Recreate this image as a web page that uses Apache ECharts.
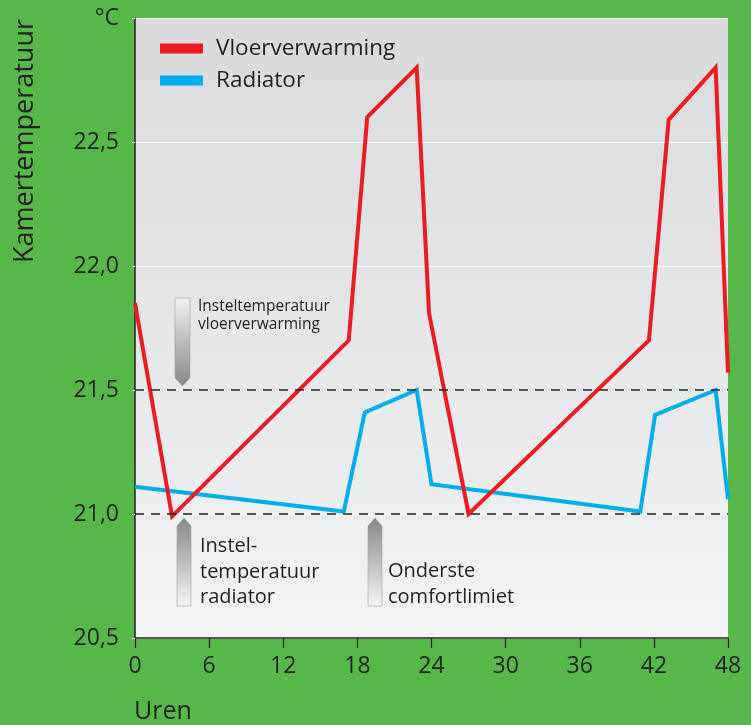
<!DOCTYPE html>
<html>
<head>
<meta charset="utf-8">
<script src="https://cdn.jsdelivr.net/npm/echarts@6/dist/echarts.min.js"></script>
<style>
  html, body { margin: 0; padding: 0; background: #55b848; }
  #chart { width: 751px; height: 725px; }
</style>
</head>
<body>
<div id="chart"></div>
<script>
// uren / kamertemperatuur
const hoursFloor = [0, 3, 17.3, 18.8, 22.8, 23.8, 27, 41.6, 43.2, 47, 48]
const tempFloor = [21.85, 20.99, 21.7, 22.6, 22.8, 21.81, 21.0, 21.7, 22.59, 22.8, 21.57]
const hoursRad = [0, 16.9, 18.6, 22.8, 24.0, 40.9, 42.1, 47.0, 48]
const tempRad = [21.11, 21.01, 21.41, 21.5, 21.12, 21.01, 21.4, 21.5, 21.06]
const refLines = [21.0, 21.5]

const FONT = 'Open Sans'
const TXT = '#231f20'

const zip = (xs, ys) => xs.map((x, i) => [x, ys[i]])

let chart = echarts.init(document.getElementById('chart'))

// grijze pijltjes bij de annotaties
const arrowDown = (x, y) => ({
  type: 'polygon',
  shape: { points: [[x, y], [x + 15, y], [x + 15, y + 80], [x + 7.5, y + 88], [x, y + 80]] },
  style: {
    fill: new echarts.graphic.LinearGradient(0, 0, 0, 1, [
      { offset: 0, color: '#f2f2f2' }, { offset: 1, color: '#86878a' }
    ]),
    stroke: '#9c9da0',
    lineWidth: 0.6
  }
})
const arrowUp = (x, y) => ({
  type: 'polygon',
  shape: { points: [[x, y + 8], [x + 7, y], [x + 14, y + 8], [x + 14, y + 88], [x, y + 88]] },
  style: {
    fill: new echarts.graphic.LinearGradient(0, 0, 0, 1, [
      { offset: 0, color: '#86878a' }, { offset: 1, color: '#f4f4f4' }
    ]),
    stroke: '#a0a1a4',
    lineWidth: 0.6
  }
})
const label = (x, y, text, size, lh) => ({
  type: 'text',
  x: x,
  y: y,
  style: { text: text, fontFamily: FONT, fontSize: size, lineHeight: lh, fill: TXT }
})

let option = {
  backgroundColor: '#55b848',
  animation: false,
  grid: {
    left: 135,
    right: 23,
    top: 18,
    bottom: 87,
    show: true,
    borderWidth: 0,
    backgroundColor: new echarts.graphic.LinearGradient(0, 0, 0, 1, [
      { offset: 0, color: '#d9dadc' }, { offset: 1, color: '#f2f3f4' }
    ])
  },
  legend: {
    left: 160,
    top: 37,
    padding: 0,
    orient: 'vertical',
    icon: 'rect',
    itemWidth: 43,
    itemHeight: 10,
    itemGap: 9,
    textStyle: { fontFamily: FONT, fontSize: 22.5, color: TXT, padding: [0, 0, 0, 8] },
    data: ['Vloerverwarming', 'Radiator']
  },
  xAxis: {
    type: 'value',
    min: 0,
    max: 48,
    interval: 6,
    axisLine: { lineStyle: { color: '#222', width: 1.5 } },
    axisTick: { length: 10, lineStyle: { color: '#222', width: 1.2 } },
    axisLabel: { fontFamily: FONT, fontSize: 23, color: TXT, margin: 17 },
    splitLine: { show: false }
  },
  yAxis: {
    type: 'value',
    min: 20.5,
    max: 23,
    interval: 0.5,
    axisLine: { show: true, lineStyle: { color: '#222', width: 1.5 } },
    axisTick: { show: true, length: 3, lineStyle: { color: '#ffffff' } },
    axisLabel: {
      fontFamily: FONT,
      fontSize: 23,
      color: TXT,
      margin: 16,
      formatter: v => v === 23 ? '°C' : v.toFixed(1).replace('.', ',')
    },
    splitLine: { show: true, lineStyle: { color: '#ffffff', width: 1.2 } }
  },
  series: [
    {
      name: 'Vloerverwarming',
      type: 'line',
      data: zip(hoursFloor, tempFloor),
      symbol: 'none',
      z: 4,
      color: '#ed1c24',
      lineStyle: { color: '#ed1c24', width: 4, join: 'miter' },
      markLine: {
        silent: true,
        symbol: 'none',
        label: { show: false },
        lineStyle: { color: '#222', type: [9, 7], width: 1.5 },
        data: refLines.map(v => ({ yAxis: v }))
      }
    },
    {
      name: 'Radiator',
      type: 'line',
      data: zip(hoursRad, tempRad),
      symbol: 'none',
      z: 3,
      color: '#00aeef',
      lineStyle: { color: '#00aeef', width: 4, join: 'miter' }
    }
  ],
  graphic: [
    {
      type: 'text',
      x: 25,
      y: 141,
      rotation: Math.PI / 2,
      style: {
        text: 'Kamertemperatuur',
        fontFamily: FONT,
        fontSize: 27,
        fill: TXT,
        align: 'center',
        verticalAlign: 'middle'
      }
    },
    label(134, 697, 'Uren', 25, 30),
    arrowDown(175, 298),
    label(198, 297, 'Insteltemperatuur\nvloerverwarming', 15.5, 18.5),
    arrowUp(177, 518),
    label(200, 534, 'Instel-\ntemperatuur\nradiator', 20, 25.5),
    arrowUp(368, 518),
    label(388, 559, 'Onderste\ncomfortlimiet', 20, 25.5)
  ]
}

chart.setOption(option)
</script>
</body>
</html>
